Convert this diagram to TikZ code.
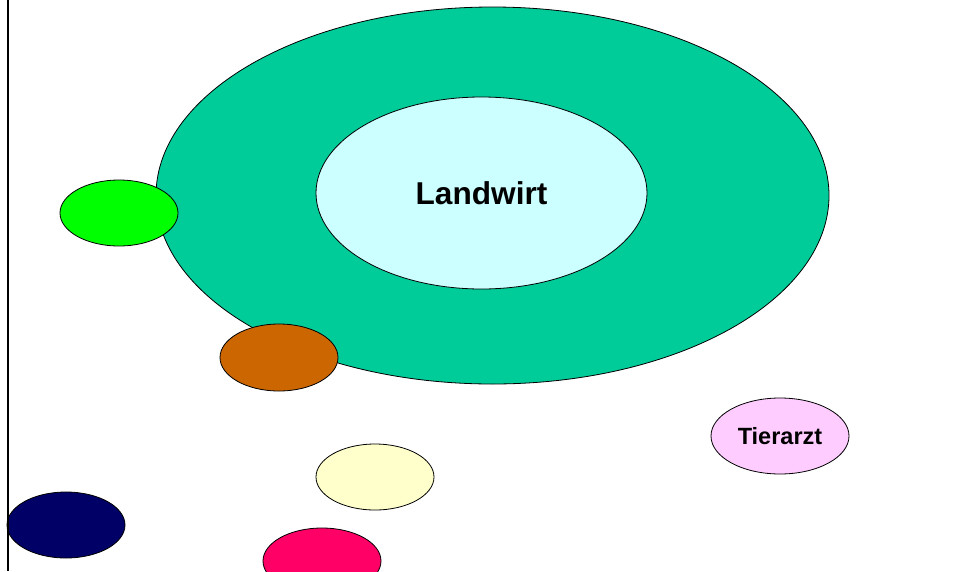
\documentclass[tikz,border=0pt]{standalone}
\usepackage{fontspec}
\setmainfont{Liberation Sans}
\usetikzlibrary{shapes.geometric}
\definecolor{outerring}{HTML}{00CC99}
\definecolor{innercore}{HTML}{CCFFFF}
\definecolor{lime}{HTML}{00FF00}
\definecolor{rust}{HTML}{CC6600}
\definecolor{cream}{HTML}{FFFFCC}
\definecolor{navyblue}{HTML}{000066}
\definecolor{raspberry}{HTML}{FF0066}
\definecolor{lilac}{HTML}{FFCCFF}
\tikzset{
  blob/.style={ellipse, draw=black, line width=0.8pt, inner sep=0pt,
    minimum width=118pt, minimum height=66pt},
  label/.style={font=\bfseries, text=black}
}
\begin{document}
\begin{tikzpicture}[x=1pt,y=-1pt]
  \useasboundingbox (0,0) rectangle (956,571);
  \clip (0,0) rectangle (956,571);
  \fill[white] (0,0) rectangle (956,571);
  % farmer circle
  \node[blob, fill=outerring, minimum width=673pt, minimum height=377pt] (ring) at (492.5,195.5) {};
  \node[blob, fill=innercore, minimum width=331pt, minimum height=192pt,
        label, font=\bfseries\fontsize{31.6}{36}\selectfont] (farmer) at (481.5,193) {Landwirt};
  % surrounding actors
  \node[blob, fill=lime] (a1) at (119,213) {};
  \node[blob, fill=rust, minimum height=67pt] (a2) at (279,357.5) {};
  \node[blob, fill=cream] (a3) at (375,477) {};
  \node[blob, fill=navyblue] (a4) at (66,525) {};
  \node[blob, fill=raspberry] (a5) at (322,561) {};
  \node[blob, fill=lilac, minimum width=138pt, minimum height=76pt,
        label, font=\bfseries\fontsize{23.5}{27}\selectfont] (vet) at (780,436) {Tierarzt};
  % left border line
  \coordinate (top) at (8,0);
  \coordinate (bottom) at (8,571);
  \draw[line width=2.2pt] (top) -- (bottom);
\end{tikzpicture}
\end{document}
